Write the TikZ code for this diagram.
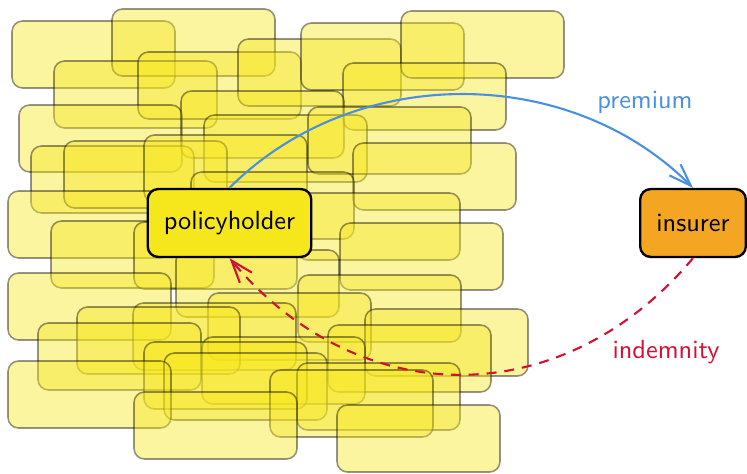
\documentclass[tikz,border=0pt]{standalone}
\usepackage{fontspec}
\usetikzlibrary{arrows.meta}
\definecolor{phyellow}{RGB}{246,230,28}
\definecolor{insorange}{RGB}{244,166,35}
\definecolor{premblue}{RGB}{74,144,226}
\definecolor{indred}{RGB}{210,16,52}
\begin{document}
\begin{tikzpicture}[x=0.38pt,y=-0.38pt,
  crowd/.style={draw=black,draw opacity=0.42,fill=phyellow,fill opacity=0.42,rounded corners=4pt,line width=0.6pt},
  actor/.style={draw=black,line width=0.9pt,rounded corners=4pt,minimum height=25.8pt,inner xsep=6.15pt,font=\sffamily},
  flow/.style={line width=0.8pt,-{Straight Barb[length=8.5pt,width=6pt]}},
  lbl/.style={font=\sffamily}]
\useasboundingbox (0,0) rectangle (747,473);
\foreach \x/\y in {12/21,112/9,54/61,138/52,238/39,301/23,401/11,343/63,
  19/105,181/91,204/115,308/107,353/143,31/146,64/141,144/135,191/172,
  8/191,297/193,51/221,134/222,340/223,176/250,8/273,298/275,208/293,
  133/303,77/307,365/309,38/323,328/325,202/337,144/342,164/353,8/361,
  297/363,270/370,134/392,337/405}
  \draw[crowd] (\x,\y) rectangle ++(163,67);
\node[actor,fill=phyellow] (ph) at (229.5,223) {policyholder};
\node[actor,fill=insorange] (ins) at (693,223) {insurer};
\draw[flow,premblue] (ph.north) to[out=45,in=135,looseness=0.975] (ins.north);
\draw[flow,indred,dash pattern=on 3.8pt off 3pt] (ins.south) to[out=-130,in=-50,looseness=1.12] (ph.south);
\node[lbl,text=premblue] (lp) at (645,102) {premium};
\node[lbl,text=indred] (li) at (666,352) {indemnity};
\end{tikzpicture}
\end{document}
